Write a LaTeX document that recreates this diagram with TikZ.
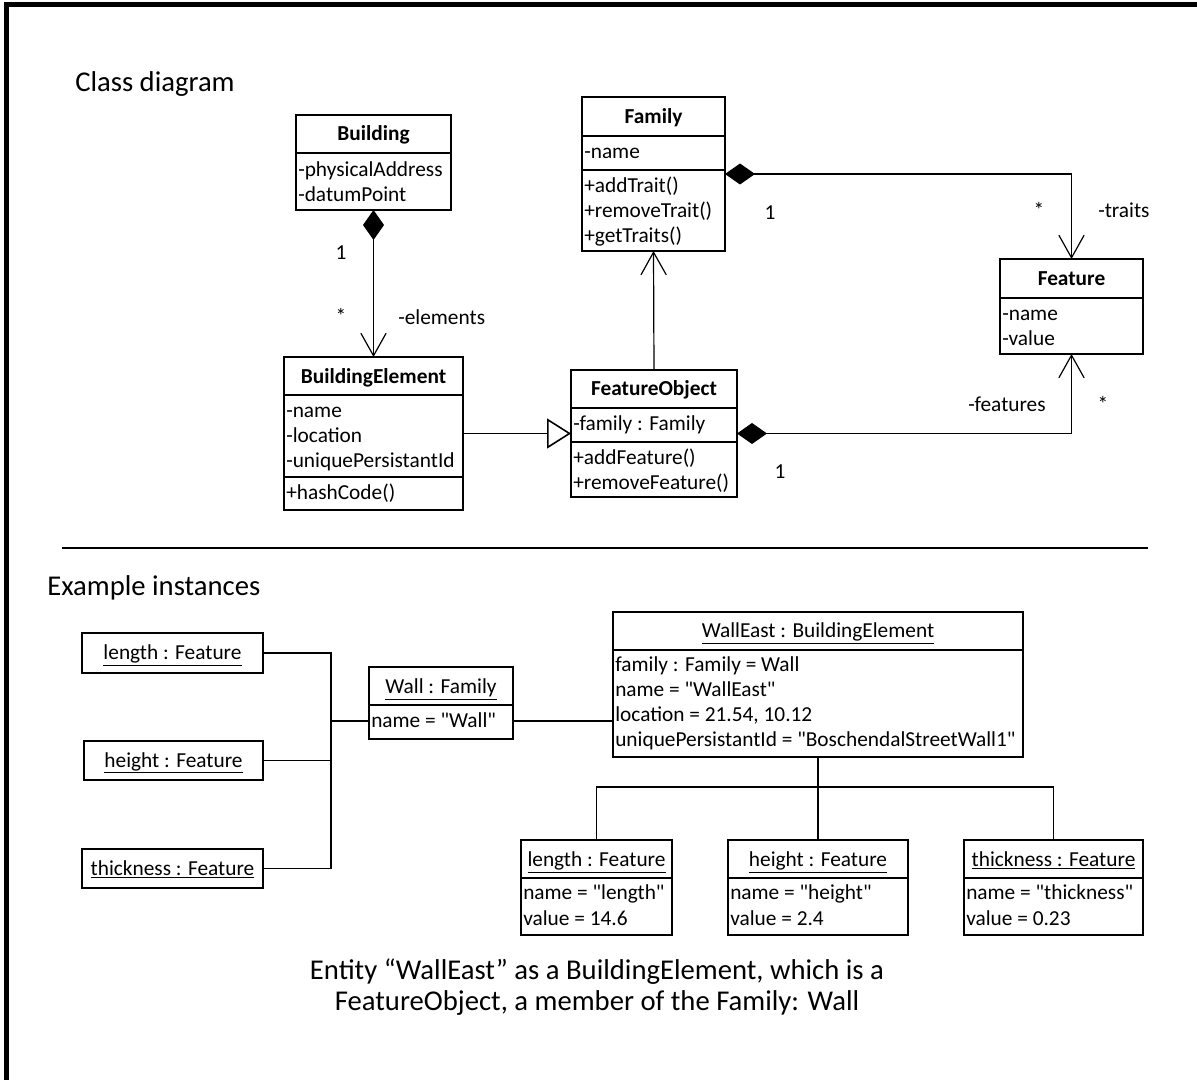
\documentclass[tikz,border=0pt]{standalone}
\usepackage{fontspec}
\setmainfont{Carlito}
\usetikzlibrary{arrows.meta,fit}
\newcommand\dq{\textquotedbl}
\begin{document}
\begin{tikzpicture}[x=0.75pt,y=-0.75pt,
  box/.style={draw, line width=1.5pt, inner sep=0pt, outer sep=0pt},
  divl/.style={line width=1.5pt},
  conn/.style={line width=0.9pt},
  txt/.style={font=\fontsize{16pt}{19pt}\selectfont, inner sep=0pt},
  hdr/.style={txt, font=\fontsize{16pt}{19pt}\selectfont\bfseries, anchor=base},
  inst/.style={txt, anchor=base},
  attr/.style={txt, anchor=base west},
  lbl/.style={txt},
  lblw/.style={txt, anchor=west},
  title/.style={font=\fontsize{21.5pt}{26pt}\selectfont, anchor=base west, inner sep=0pt},
  comp/.style={conn, {Diamond[length=22.5pt,width=15.75pt]}-{Straight Barb[length=17pt,width=19pt]}},
  assoc/.style={conn, -{Straight Barb[length=17pt,width=19pt]}},
  gen/.style={conn, -{Triangle[open,length=18pt,width=22.5pt,line width=1.2pt]}},
]
\useasboundingbox (0,0) rectangle (1197,1080);
% page frame
\draw[line width=3.6pt] (6.5,1080) -- (6.5,4.5) -- (1197,4.5);

% ---------- class diagram ----------
\node[title] (t1) at (75,92) {Class diagram};

% Building
\node[box, fit={(296,115) (451,210)}] (building) {};
\draw[divl] (building.west |- 0,153) -- (building.east |- 0,153);
\node[hdr] at (373.5,140.5) {Building};
\node[attr] at (298,176.5) {-physicalAddress};
\node[attr] at (298,201.5) {-datumPoint};

% BuildingElement
\node[box, fit={(284,357) (463,510)}] (be) {};
\draw[divl] (be.west |- 0,395) -- (be.east |- 0,395);
\draw[divl] (be.west |- 0,477) -- (be.east |- 0,477);
\node[hdr] at (373.5,383.5) {BuildingElement};
\node[attr] at (286,417.5) {-name};
\node[attr] at (286,442.5) {-location};
\node[attr] at (286,467.5) {-uniquePersistantId};
\node[attr] at (286,499.5) {+hashCode()};

% Family
\node[box, fit={(582,97) (725,251)}] (family) {};
\draw[divl] (family.west |- 0,136) -- (family.east |- 0,136);
\draw[divl] (family.west |- 0,170) -- (family.east |- 0,170);
\node[hdr] at (653.5,123.5) {Family};
\node[attr] at (584,159) {-name};
\node[attr] at (584,192.5) {+addTrait()};
\node[attr] at (584,217.5) {+removeTrait()};
\node[attr] at (584,242.5) {+getTraits()};

% Feature
\node[box, fit={(1000,259) (1143,354)}] (feature) {};
\draw[divl] (feature.west |- 0,298) -- (feature.east |- 0,298);
\node[hdr] at (1071.5,285.5) {Feature};
\node[attr] at (1002,320.5) {-name};
\node[attr] at (1002,345.5) {-value};

% FeatureObject
\node[box, fit={(571,370) (737,497)}] (fobj) {};
\draw[divl] (fobj.west |- 0,408) -- (fobj.east |- 0,408);
\draw[divl] (fobj.west |- 0,442) -- (fobj.east |- 0,442);
\node[hdr] at (654,395.5) {FeatureObject};
\node[attr] at (573,430.5) {-family : Family};
\node[attr] at (573,464.5) {+addFeature()};
\node[attr] at (573,489.5) {+removeFeature()};

% relations
\draw[comp] (building.south) -- (be.north);
\node[lbl] at (341,253) {1};
\node[lbl] at (341,316) {*};
\node[lblw] at (398,317) {-elements};

\draw[comp] (family.east) -| (feature.north);
\node[lbl] at (770,213) {1};
\node[lbl] at (1039,210) {*};
\node[lblw] at (1098,210) {-traits};

\draw[comp] (fobj.east) -| (feature.south);
\node[lbl] at (780,472) {1};
\node[lbl] at (1103,404) {*};
\node[lblw] at (968,404) {-features};

\draw[gen] (be.east) -- (fobj.west);
\draw[assoc] (fobj.north) -- (family.south);

% separator
\draw[line width=2pt] (62,548) -- (1148,548);

% ---------- example instances ----------
\node[title] (t2) at (47,595.5) {Example instances};

\node[box, fit={(82,633) (263,673)}] (flen) {};
\node[inst] at (172.5,659.5) {\underline{length : Feature}};
\node[box, fit={(84,741) (263,780)}] (fhgt) {};
\node[inst] at (173.5,767) {\underline{height : Feature}};
\node[box, fit={(82,849) (263,888)}] (fthk) {};
\node[inst] at (172.5,875) {\underline{thickness : Feature}};

% Wall : Family
\node[box, fit={(369,667) (513,739)}] (wall) {};
\draw[divl] (wall.west |- 0,705) -- (wall.east |- 0,705);
\node[inst] at (441,693.5) {\underline{Wall : Family}};
\node[attr] (wallattr) at (371,727.5) {name = \dq Wall\dq};

% WallEast : BuildingElement
\node[box, fit={(613,612) (1023,757)}] (walleast) {};
\draw[divl] (walleast.west |- 0,650) -- (walleast.east |- 0,650);
\node[inst] at (818,637.5) {\underline{WallEast : BuildingElement}};
\node[attr] at (615,671.5) {family : Family = Wall};
\node[attr] at (615,696.5) {name = \dq WallEast\dq};
\node[attr] at (615,721.5) {location = 21.54, 10.12};
\node[attr] at (615,746.5) {uniquePersistantId = \dq BoschendalStreetWall1\dq};

% feature instances
\node[box, fit={(521,840) (672,935)}] (ilen) {};
\draw[divl] (ilen.west |- 0,878) -- (ilen.east |- 0,878);
\node[inst] at (596.5,866.5) {\underline{length : Feature}};
\node[attr] at (523,899.5) {name = \dq length\dq};
\node[attr] at (523,925) {value = 14.6};

\node[box, fit={(728,840) (908,935)}] (ihgt) {};
\draw[divl] (ihgt.west |- 0,878) -- (ihgt.east |- 0,878);
\node[inst] at (818,866.5) {\underline{height : Feature}};
\node[attr] at (730,899.5) {name = \dq height\dq};
\node[attr] at (730,925) {value = 2.4};

\node[box, fit={(964,840) (1143,935)}] (ithk) {};
\draw[divl] (ithk.west |- 0,878) -- (ithk.east |- 0,878);
\node[inst] at (1053.5,866.5) {\underline{thickness : Feature}};
\node[attr] at (966,899.5) {name = \dq thickness\dq};
\node[attr] at (966,925) {value = 0.23};

% links
\coordinate (bus) at (331,721);
\draw[conn] (flen.east) -| (bus);
\draw[conn] (fhgt.east) -| (bus);
\draw[conn] (fthk.east) -| (bus);
\draw[line width=1.6pt] (bus) -- (wall.west |- bus);
\draw[conn] (wall.east |- bus) -- (walleast.west |- bus);

\coordinate (tree) at (818,787);
\draw[conn] (walleast.south) -- (tree);
\draw[conn] (tree) -| (ilen.north);
\draw[conn] (tree) -| (ithk.north);
\draw[conn] (tree) -- (ihgt.north);

% caption
\node[font=\fontsize{21.5pt}{23.25pt}\selectfont, align=center, inner sep=0pt] (cap) at (597,987.5)
  {Entity “WallEast” as a BuildingElement, which is a\\FeatureObject, a member of the Family: Wall};
\end{tikzpicture}
\end{document}
